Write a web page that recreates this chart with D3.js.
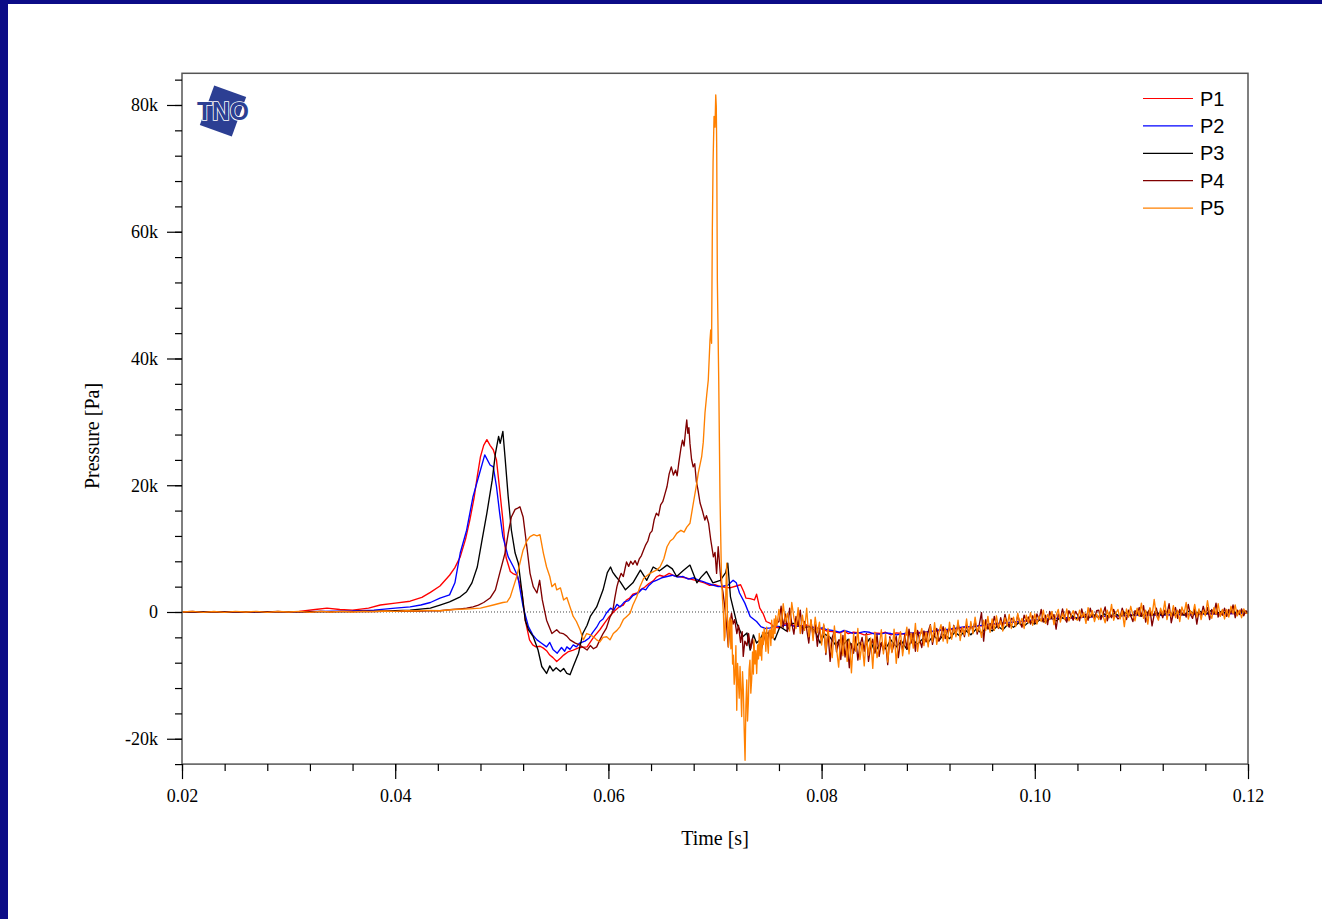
<!DOCTYPE html>
<html>
<head>
<meta charset="utf-8">
<script src="https://cdn.jsdelivr.net/npm/d3@7"></script>
<style>
  html, body { margin: 0; padding: 0; background: #ffffff; }
  svg { display: block; }
</style>
</head>
<body>
<svg id="chart" width="1322" height="919"></svg>
<script>
// Pressure traces of five gauges; time in ms, pressure in kPa.
const seriesNames = ["P1", "P2", "P3", "P4", "P5"];
const seriesColors = ["#ff0000", "#0000ff", "#000000", "#800000", "#ff8000"];

const xTickValues = [20, 40, 60, 80, 100, 120];
const xTickLabels = ["0.02", "0.04", "0.06", "0.08", "0.10", "0.12"];
const yTickValues = [-20, 0, 20, 40, 60, 80];
const yTickLabels = ["-20k", "0", "20k", "40k", "60k", "80k"];

const p1 = [[20,0],[24,0],[28,0.05],[31,0.1],[32.5,0.4],[33.6,0.6],[34.8,0.4],[36,0.3],[37.5,0.6],[38.6,1.1],[40,1.4],[41.4,1.7],[42.5,2.3],[43.3,3.1],[44.2,4.1],[45.1,5.8],[45.6,7],[46.1,8.7],[46.6,11.5],[47,14.5],[47.4,18],[47.7,21.4],[48,24.5],[48.3,26.3],[48.6,27.2],[48.9,26.3],[49.2,25.6],[49.5,24],[49.8,19.3],[50.1,14.5],[50.4,8.6],[50.8,6.4],[51.1,6],[51.4,5.8],[51.7,4.5],[51.9,3],[52.2,-1.3],[52.6,-4.4],[52.9,-5.2],[53.2,-5.5],[53.6,-5.4],[53.9,-5.7],[54.2,-6.1],[54.5,-6.8],[54.8,-7.2],[55.15,-7.8],[55.5,-7.3],[55.8,-6.8],[56.2,-6.3],[56.7,-6],[57.3,-5.6],[58,-5.5],[58.6,-4],[59.2,-2.8],[59.7,-1.6],[60.1,-0.7],[60.6,0.2],[61,0.8],[61.4,1.1],[61.7,1.9],[62,2.2],[62.3,2.8],[62.7,3],[63,3.5],[63.4,3.9],[63.8,4.5],[64.2,4.9],[64.5,5.5],[64.8,5.8],[65.2,5.6],[65.7,6.1],[66.2,5.7],[66.7,5.6],[67.2,5.4],[67.7,5.2],[68.2,5],[68.6,4.8],[69,4.6],[69.5,4.2],[70,4.3],[70.5,4],[71,3.9],[71.4,3.8],[72,4.1],[72.4,4.3],[72.7,3.2],[72.9,2.2],[73.3,2.1],[73.7,1.9],[73.9,2.8],[74.2,0.6],[74.5,-0.2],[74.8,-1.5],[75.2,-1.8],[75.6,-2.4],[76.1,-2.5],[76.5,-1.9],[77,-1.8],[77.5,-2.2],[78,-2.3],[78.5,-2],[78.9,-2.3],[79.4,-2.5],[79.8,-2.6],[80.2,-2.8],[80.5,-3],[81,-3.1],[81.7,-3.3],[82.1,-3],[82.5,-3.4],[83,-3.2],[83.5,-3.3],[84,-3.6],[84.5,-3.5],[85,-3.3],[85.5,-3.4],[86,-3.2],[86.5,-3.6],[87,-3.3],[87.5,-3.4],[88,-3.6],[88.5,-3.5],[89,-3.2],[89.5,-3.3],[90,-3.1],[90.5,-3.1],[91.2,-2.9],[92,-2.8],[92.7,-2.6],[93.5,-2.4],[94.2,-2.3],[95,-2.2],[95.8,-2],[96.5,-1.9],[97.2,-1.8],[98,-1.6],[99,-1.5],[100,-1.3],[101,-1.1],[102,-1],[103,-1],[104,-0.9],[105,-0.8],[106,-0.7],[107,-0.7],[108,-0.6],[109,-0.5],[110,-0.5],[111,-0.4],[112,-0.4],[113,-0.5],[114,-0.4],[115,-0.3],[116,-0.3],[117,-0.3],[118,-0.3],[119,-0.2],[120,-0.2]];

const p2 = [[20,0],[30,0],[33,0.1],[36,0.15],[38,0.3],[40,0.6],[41.4,0.8],[42.4,1.1],[43.3,1.5],[44.2,2.2],[45.1,2.7],[45.6,4.6],[46.1,9.3],[46.7,12.9],[47.3,18.2],[48,22.4],[48.4,24.8],[48.9,23.2],[49.2,22.9],[49.5,19.8],[49.8,15.6],[50.1,11.9],[50.6,8.7],[51.1,7.1],[51.5,5.6],[52,0.8],[52.5,-2.3],[52.9,-3.6],[53.3,-4.4],[53.7,-4.9],[54.2,-5.5],[54.5,-4.8],[54.8,-5.9],[55.2,-6.5],[55.6,-5.6],[55.9,-6.2],[56.1,-5.5],[56.4,-5.9],[56.7,-5.2],[57.0,-5.5],[57.3,-4.9],[57.8,-4.6],[58.2,-4.1],[58.5,-3.3],[58.9,-2.4],[59.2,-1.5],[59.5,-1.1],[59.8,-0.2],[60.2,0.6],[60.5,0.3],[60.8,1.2],[61.1,0.8],[61.5,1.6],[61.9,1.8],[62.3,2.6],[62.8,3],[63.2,3.7],[63.5,3.5],[63.8,4.2],[64.2,4.8],[64.5,5],[65,5.4],[65.5,5.6],[66,5.8],[66.5,5.5],[67,5.6],[67.5,5.2],[68,5.4],[68.5,5],[68.9,4.8],[69.2,4.6],[69.7,4.3],[70.3,4],[70.8,4.1],[71.2,4.2],[71.5,4.7],[71.7,5],[72,4.6],[72.3,3],[72.8,1.4],[73.3,-0.7],[73.6,-1.1],[73.9,-1.5],[74.3,-2.3],[74.7,-2.6],[75.2,-2.5],[75.6,-2.2],[76.1,-2.3],[76.5,-2.1],[77,-2],[77.5,-2.3],[78,-2.2],[78.5,-2.4],[79,-2.3],[79.5,-2.6],[80.1,-2.5],[80.5,-2.8],[81,-2.9],[81.7,-3.2],[82.1,-2.9],[82.5,-3.1],[83,-3.4],[83.5,-3.3],[84,-3.1],[84.5,-3.2],[85,-3.5],[85.5,-3.5],[86,-3.3],[86.5,-3.4],[87,-3.6],[87.5,-3.5],[88,-3.3],[88.5,-3.3],[89,-3.4],[89.5,-3.2],[90,-3.1],[90.5,-3],[91.2,-2.8],[92,-2.7],[92.7,-2.5],[93.5,-2.3],[94.2,-2.3],[95,-2.1],[95.8,-1.9],[96.5,-1.8],[97.2,-1.7],[98,-1.6],[99,-1.4],[100,-1.2],[101,-1.1],[102,-1],[103,-0.9],[104,-0.9],[105,-0.8],[106,-0.7],[107,-0.6],[108,-0.6],[109,-0.5],[110,-0.5],[111,-0.5],[112,-0.5],[113,-0.4],[114,-0.4],[115,-0.4],[116,-0.3],[117,-0.3],[118,-0.3],[119,-0.2],[120,-0.2]];

const p3 = [[20,0],[35,0.05],[38,0.1],[40,0.2],[41.4,0.3],[43.3,0.6],[44.2,1.1],[45.1,1.6],[46.1,2.4],[46.7,3.2],[47.2,4.6],[47.7,7.1],[48.1,10.9],[48.6,15.6],[49.1,20.8],[49.4,25],[49.7,27.7],[49.85,26.6],[50.1,28.5],[50.3,24.5],[50.6,18.2],[50.9,12.9],[51.25,9.3],[51.55,7.7],[51.9,3],[52.2,-1.3],[52.5,-2.8],[52.95,-3.9],[53.4,-6],[53.75,-8.6],[54.2,-9.7],[54.5,-8.5],[54.8,-9.3],[55.1,-8.8],[55.5,-9.4],[55.8,-8.9],[56.1,-9.7],[56.4,-9.9],[56.7,-8.6],[57.2,-6.5],[57.6,-3.4],[58,-2.1],[58.3,-0.7],[58.9,0.8],[59.5,3.5],[59.9,6.2],[60.2,7.1],[60.4,6.3],[60.7,5.6],[61.1,4.8],[61.6,3.5],[62.3,4.6],[63,6.6],[63.6,5],[64.2,7.1],[64.8,6.5],[65.5,7.4],[66,6.8],[66.4,5.6],[67,6.5],[67.65,7.4],[68.3,4.6],[68.7,5.5],[69.2,6.4],[69.8,4.6],[70.5,5],[71,6.2],[71.2,7.7],[71.45,2.4],[72.05,-1.8],[72.6,-3.9],[73,-3.3],[73.3,-6],[73.6,-3.6],[73.9,-4.9],[74.2,-4.4],[74.5,-3.4],[75.2,-3.3],[75.6,-4.4],[76.1,-2.3],[76.7,-3],[77.2,-1.8],[77.7,-1.8],[78.2,-2.5],[78.9,-2.3],[79.4,-3],[79.85,-4.9],[80.3,-3.5],[80.8,-4],[81.3,-5.2],[81.7,-4.4],[82,-5.2],[82.5,-4.3],[83,-6.1],[83.5,-4.8],[84,-5.6],[84.5,-4.2],[85,-6.3],[85.5,-5],[86,-5.8],[86.5,-4.4],[87,-5.5],[87.5,-4.6],[88,-5.9],[88.5,-4.3],[89,-5.1],[89.5,-4.2],[90,-4.8],[90.5,-3.7],[91,-4.5],[91.5,-3.5],[92,-4.2],[92.5,-3.2],[93,-3.8],[93.5,-2.9],[94,-3.6],[94.5,-2.7],[95,-3.3],[95.5,-2.4],[96,-3],[96.5,-2.2],[97,-2.8],[97.5,-1.9],[98,-2.4],[98.5,-1.7],[99,-2.2],[99.5,-1.5],[100,-1.9],[100.5,-1.2],[101,-1.6],[101.5,-0.9],[102,-1.4],[102.5,-0.8],[103,-1.3],[103.5,-0.6],[104,-1.1],[104.5,-0.5],[105,-1],[105.5,-0.4],[106,-0.9],[106.5,-0.3],[107,-0.8],[107.5,-0.2],[108,-0.7],[108.5,-0.1],[109,-0.6],[109.5,-0.2],[110,-0.7],[110.5,0],[111,-0.5],[111.5,-0.1],[112,-0.6],[112.5,0.1],[113,-0.4],[113.5,0],[114,-0.5],[114.5,0.2],[115,-0.3],[115.5,0.1],[116,-0.4],[116.5,0.2],[117,-0.3],[117.5,0.1],[118,-0.2],[118.5,0.2],[119,-0.3],[119.5,0.1],[120,-0.1]];

const p4Head = [[20,0],[21,0.08],[22,-0.05],[23,0.06],[24,-0.04],[25,0.07],[26,-0.05],[27,0.06],[28,0],[29,0.08],[30,-0.03],[31,0.07],[32,0],[33,0.1],[34,0.02],[35,0.1],[36,0.05],[37,0.12],[38,0.08],[39,0.12],[40,0.1],[41,0.15],[42,0.12],[43,0.18],[44.2,0.2],[45.1,0.35],[46.1,0.5],[46.7,0.6],[47.3,0.8],[47.8,1.1],[48.3,1.5],[48.9,2.2],[49.4,3.5],[49.8,6.1],[50.3,9.3],[50.6,12.4],[50.9,15],[51.25,16.2],[51.5,16.4],[51.7,16.6],[52,15],[52.35,10.3],[52.65,6.1],[52.95,4],[53.3,3],[53.55,5],[53.8,1.9],[54.2,-1.3],[54.7,-3.4],[55.15,-2.8],[55.45,-3.3],[55.75,-3.4],[56.1,-3.8],[56.4,-4.4],[56.9,-4.9],[57.3,-5.2],[57.65,-5.6],[58,-6],[58.3,-5.3],[58.6,-5.8],[58.9,-5.5],[59.2,-4.4],[59.5,-3.4],[59.8,-2.6],[60.15,-0.8],[60.4,0],[60.6,2.2],[60.8,4],[61,5.2],[61.2,6.1],[61.4,5.6],[61.7,7.9],[61.9,7.2],[62.1,8],[62.3,7.5],[62.5,8.1],[62.7,7.4],[62.9,8.4],[63.1,8.9],[63.3,9.8],[63.5,10.6],[63.7,11.2],[63.9,12.4],[64.1,12.8],[64.3,14.6],[64.5,15.6],[64.7,15.2],[64.9,16.9],[65.1,17.4],[65.3,18.6],[65.5,19.8],[65.7,21.8],[65.9,22.9],[66.1,21.6],[66.3,22.4],[66.45,21.5],[66.6,23.5],[66.8,25.8],[66.95,27.1],[67.1,26.2],[67.25,28.8],[67.35,30.3],[67.45,28.2],[67.55,29.1],[67.65,26.6],[67.8,24.1],[67.95,22.9],[68.1,23.4],[68.25,20.6],[68.4,19.3],[68.6,17.2],[68.8,16.1],[69.05,14.5],[69.2,15.2],[69.4,14],[69.6,11.4],[69.85,8.7],[70,9.4],[70.15,6.1],[70.3,10.3],[70.45,7.1],[70.55,5],[70.75,3.1],[70.95,0.3],[71.1,-2.4],[71.25,-5.5],[71.4,-1.8],[71.55,-0.2],[71.7,-1.9],[71.85,-1.2],[72.05,-3.4],[72.2,-2.1],[72.4,-4.8],[72.55,-3.1],[72.65,-7],[72.8,-4.6],[73,-5.3],[73.15,-3.4],[73.35,-5.8],[73.5,-4.2],[73.7,-6.1],[73.9,-7.6],[74.1,-5.2],[74.3,-6.3],[74.5,-4.9],[74.7,-3.6],[74.9,-4.8],[75.1,-2.9],[75.3,-4.1],[75.5,-3.4],[75.75,-1.8]];

const p5Head = [[20,0],[21,0.1],[22,-0.05],[23,0.08],[24,-0.05],[25,0.1],[26,0],[27,0.1],[28,-0.05],[29,0.08],[30,0],[31,0.1],[32,-0.05],[33,0.1],[34,0],[35,0.1],[36,0],[37,0.1],[38,0.05],[39,0.15],[40,0.1],[41,0.2],[42,0.15],[43,0.25],[44.2,0.2],[45.5,0.4],[47,0.5],[48,0.6],[49.2,1.1],[50.1,1.5],[50.5,1.6],[50.8,2.4],[51.1,4],[51.4,5.6],[51.7,7.7],[52,9.8],[52.35,11.2],[52.65,11.9],[53,12.2],[53.3,12],[53.58,12.2],[53.9,9.3],[54.2,7.1],[54.5,5.6],[54.7,4],[55,4.5],[55.15,3.5],[55.5,3.8],[55.8,1.9],[56.1,2.3],[56.4,0.8],[56.7,-0.7],[57,-1.5],[57.34,-2.8],[57.65,-4.4],[57.96,-3.4],[58.3,-3.6],[58.6,-3.9],[58.9,-4.4],[59.2,-4.7],[59.5,-4],[59.84,-3.9],[60.15,-4.4],[60.46,-3.4],[60.8,-2.9],[61.09,-2.3],[61.4,-1.2],[61.72,-0.7],[62.03,-0.2],[62.3,1.1],[62.66,2.4],[62.96,4],[63.3,5.3],[63.9,6.1],[64.5,6.6],[64.84,7.1],[65.2,8.4],[65.5,10.3],[65.8,11.2],[66.1,11.6],[66.41,12.4],[66.8,12.9],[67.1,12.6],[67.35,13.4],[67.65,14],[67.97,17.2],[68.28,20.2],[68.43,21.9],[68.75,24.5],[68.9,26.8],[69.06,31.4],[69.22,34.2],[69.37,36.6],[69.53,42.9],[69.6,44.5],[69.68,42.4],[69.75,60.3],[69.82,71],[69.91,78.2],[70,76.5],[70.07,81.6],[70.12,79.8],[70.16,73.4],[70.22,52.4],[70.35,36.6],[70.47,18],[70.6,6.2],[70.7,2.1],[70.79,-0.2],[70.87,-4.5],[70.94,-3.9],[71.02,3.5],[71.1,7.7],[71.18,-2.2],[71.26,-5.5],[71.33,-1.5],[71.41,-0.9],[71.49,-5.8],[71.57,-1.3],[71.65,-8.2],[71.72,-6.8],[71.8,-11.4],[71.88,-9.7],[71.96,-5.3],[72.04,-15.5],[72.12,-8.1],[72.19,-10.7],[72.27,-13.6],[72.35,-8.6],[72.42,-12.2],[72.5,-16.5],[72.58,-9.4],[72.66,-12.3],[72.74,-18.6],[72.82,-23.4],[72.9,-14.8],[72.98,-10.7],[73.05,-17.2],[73.13,-14.2],[73.2,-9.1],[73.28,-7.6],[73.36,-12.8],[73.44,-10.7],[73.52,-6.3],[73.6,-9.8],[73.66,-4.4],[73.75,-8.2],[73.83,-6.1],[73.91,-9.7],[74,-5.2],[74.08,-7.4],[74.15,-3.4],[74.23,-6.9],[74.3,-4.1],[74.38,-7.6],[74.46,-3.2],[74.53,-5.1],[74.61,-2.6],[74.69,-3.4],[74.77,-6.2],[74.85,-2.4],[74.92,-4.9],[75,-6.5],[75.08,-3.1],[75.16,-2.8],[75.24,-5.3],[75.32,-1.3],[75.4,-3.8],[75.47,-4.2],[75.55,-1.1],[75.63,-3.4],[75.7,-0.6],[75.8,-2.2]];

// Sample times of the late, noisy part of P4 and P5 (ms), ten per row
const tailTimes = [
  76,76.2,76.4,76.6,76.8,77,77.2,77.4,77.6,77.8,
  78,78.2,78.4,78.6,78.8,79,79.2,79.4,79.6,79.8,
  80,80.2,80.4,80.6,80.8,81,81.2,81.4,81.6,81.8,
  82,82.2,82.4,82.6,82.8,83,83.2,83.4,83.6,83.8,
  84,84.2,84.4,84.6,84.8,85,85.2,85.4,85.6,85.8,
  86,86.2,86.4,86.6,86.8,87,87.2,87.4,87.6,87.8,
  88,88.2,88.4,88.6,88.8,89,89.2,89.4,89.6,89.8,
  90,90.2,90.4,90.6,90.8,91,91.2,91.4,91.6,91.8,
  92,92.2,92.4,92.6,92.8,93,93.2,93.4,93.6,93.8,
  94,94.2,94.4,94.6,94.8,95,95.2,95.4,95.6,95.8,
  96,96.2,96.4,96.6,96.8,97,97.2,97.4,97.6,97.8,
  98,98.2,98.4,98.6,98.8,99,99.2,99.4,99.6,99.8,
  100,100.2,100.4,100.6,100.8,101,101.2,101.4,101.6,101.8,
  102,102.2,102.4,102.6,102.8,103,103.2,103.4,103.6,103.8,
  104,104.2,104.4,104.6,104.8,105,105.2,105.4,105.6,105.8,
  106,106.2,106.4,106.6,106.8,107,107.2,107.4,107.6,107.8,
  108,108.2,108.4,108.6,108.8,109,109.2,109.4,109.6,109.8,
  110,110.2,110.4,110.6,110.8,111,111.2,111.4,111.6,111.8,
  112,112.2,112.4,112.6,112.8,113,113.2,113.4,113.6,113.8,
  114,114.2,114.4,114.6,114.8,115,115.2,115.4,115.6,115.8,
  116,116.2,116.4,116.6,116.8,117,117.2,117.4,117.6,117.8,
  118,118.2,118.4,118.6,118.8,119,119.2,119.4,119.6,119.8,
  120
];

const p4Tail = [
  -1.5,0.9,-2.4,-0.3,-3.1,0.6,-1.8,-3.5,-0.7,-2.2,
  0.3,-3.4,-1.5,-2.7,-4.9,-1.3,-3.8,-2.0,-5.4,-2.6,
  -4.6,-2.1,-6.7,-3.2,-7.8,-4.0,-3.0,-6.3,-4.4,-7.5,
  -3.7,-7.1,-4.6,-8.8,-5.0,-6.5,-3.9,-7.6,-5.3,-4.0,
  -6.2,-3.4,-7.8,-5.4,-4.3,-6.5,-3.6,-7.0,-4.8,-6.1,
  -4.7,-8.3,-3.9,-6.3,-5.0,-3.8,-7.2,-4.5,-6.0,-3.6,
  -5.8,-2.7,-4.9,-3.3,-6.2,-2.9,-4.4,-5.6,-3.0,-4.7,
  -3.1,-2.0,-5.1,-3.4,-2.6,-4.6,-3.7,-2.3,-4.2,-3.0,
  -2.5,-4.0,-2.1,-3.6,-1.8,-3.2,-2.5,-3.9,-2.0,-3.3,
  -2.2,-2.8,-1.4,-3.5,-1.9,-0.1,-4.6,-1.2,-2.7,-1.8,
  -2.7,-0.7,-2.0,-2.6,-0.9,-2.3,-0.4,-1.8,-2.4,-1.0,
  -1.2,-2.1,-0.5,-1.7,-2.4,-0.5,-1.4,-0.8,-1.9,-0.6,
  -1.7,-0.3,-1.2,0.4,-1.6,-0.5,-2.0,0.1,-1.0,-0.4,
  -2.7,-0.3,-1.1,0.5,-0.9,-1.6,0.2,-0.6,-1.3,0.1,
  -0.4,-1.4,0.5,-0.8,-0.3,-1.3,0.6,-0.6,-1.0,0.2,
  0.3,-1.2,-0.3,0.8,-1.4,-0.1,-0.9,0.4,-0.6,-1.1,
  -0.8,0.6,-0.4,-1.2,0.3,-0.6,-1.5,0.2,-0.3,0.7,
  -0.7,1.0,-1.6,-0.1,0.5,-2.2,-0.4,0.6,-0.9,0.2,
  -0.9,0.3,-0.3,1.3,-1.7,-0.2,0.7,-1.0,0.4,-0.5,
  0.2,-0.8,1.2,-0.4,-1.0,0.5,-1.9,0.2,-0.6,0.9,
  -0.4,0.7,-1.2,0.4,-0.3,1.4,-0.8,0.0,-0.5,0.6,
  -0.7,0.4,-0.2,1.1,-0.9,0.3,-0.4,0.5,-0.6,0.2,
  -0.1
];

const p5Tail = [
  0.4,-2.3,1.3,-1.6,-0.2,-3.0,1.5,-0.9,-2.6,0.7,
  -3.4,-0.5,-2.9,0.6,-3.9,-1.2,-4.5,-0.8,-3.3,-1.6,
  -5.2,-1.9,-6.4,-2.6,-5.1,-7.2,-2.2,-5.8,-8.7,-3.4,
  -6.9,-2.9,-7.8,-4.3,-9.6,-3.4,-6.2,-2.6,-7.5,-4.8,
  -8.5,-3.6,-6.8,-4.1,-8.9,-3.2,-7.2,-5.5,-2.8,-6.6,
  -3.5,-7.9,-4.2,-6.4,-2.7,-8.1,-4.8,-3.1,-6.9,-4.4,
  -2.4,-6.6,-3.3,-5.7,-1.8,-6.2,-3.9,-2.6,-5.3,-3.1,
  -5.5,-2.1,-4.7,-1.7,-5.1,-3.2,-2.0,-4.6,-2.5,-4.9,
  -1.6,-4.3,-2.2,-3.9,-1.3,-4.5,-2.4,-3.6,-1.1,-3.8,
  -1.5,-3.4,-0.8,-3.1,-2.2,-4.0,-1.3,-2.9,-0.7,-3.2,
  -1.1,-2.9,-0.6,-2.5,-1.4,-3.0,-0.9,-2.2,-0.4,-2.6,
  -0.8,-2.3,-0.2,-1.9,-1.0,-2.6,-0.5,-1.7,-0.1,-2.1,
  -0.3,-1.9,-0.7,-1.5,0.3,-1.8,-0.4,-1.2,0.1,-2.0,
  -0.5,0.4,-1.6,-0.2,-1.2,0.5,-1.4,-0.6,0.2,-1.1,
  -1.3,0.3,-0.9,-0.1,-1.8,0.7,-0.8,0.2,-1.5,-0.3,
  -1.2,0.6,-0.6,-1.7,0.3,-0.9,1.2,-1.3,-0.2,0.4,
  -1.1,0.2,-2.3,0.5,-0.8,0.9,-0.5,-1.4,0.6,-0.7,
  1.4,-1.0,0.3,-1.9,0.7,-0.6,2.0,-0.5,-1.3,0.6,
  -0.4,1.7,-1.2,0.4,-0.7,1.0,-0.9,0.3,-1.5,0.8,
  -0.3,1.5,-1.1,0.2,-0.5,1.2,-0.8,0.5,-1.2,0.3,
  -0.6,1.8,-0.2,-1.0,0.7,-0.4,1.3,-0.7,0.4,-1.1,
  0.4,-0.8,0.9,-0.3,1.1,-0.6,0.3,-0.9,0.5,-0.2,
  -0.2
];

// ---- assemble series ----
const zipTail = (vals) => tailTimes.map((t, i) => [t, vals[i]]);
const seriesData = [
  p1,
  p2,
  p3,
  p4Head.concat(zipTail(p4Tail)),
  p5Head.concat(zipTail(p5Tail))
];

// ---- layout ----
const svg = d3.select("#chart");
const plot = { left: 182, right: 1248, top: 73.3, bottom: 764.1 };

const x = d3.scaleLinear().domain([20, 120]).range([plot.left, plot.right]);
const y = d3.scaleLinear().domain([-24, 85]).range([plot.bottom, plot.top]);

// page background and navy frame strips
svg.append("rect").attr("width", 1322).attr("height", 919).attr("fill", "#ffffff");
svg.append("rect").attr("x", 0).attr("y", 0).attr("width", 8).attr("height", 919).attr("fill", "#0c0c87");
svg.append("rect").attr("x", 0).attr("y", 0).attr("width", 1322).attr("height", 4).attr("fill", "#0c0c87");

svg.append("defs").append("clipPath").attr("id", "plotClip")
  .append("rect")
  .attr("x", plot.left).attr("y", plot.top)
  .attr("width", plot.right - plot.left).attr("height", plot.bottom - plot.top);

// zero reference line
svg.append("line")
  .attr("x1", plot.left).attr("x2", plot.right)
  .attr("y1", y(0)).attr("y2", y(0))
  .attr("stroke", "#444").attr("stroke-width", 1)
  .attr("stroke-dasharray", "1,2");

// traces
const line = d3.line().x(d => x(d[0])).y(d => y(d[1]));
const traces = svg.append("g").attr("clip-path", "url(#plotClip)");
seriesData.forEach((pts, i) => {
  traces.append("path")
    .datum(pts)
    .attr("fill", "none")
    .attr("stroke", seriesColors[i])
    .attr("stroke-width", 1.35)
    .attr("stroke-linejoin", "round")
    .attr("d", line);
});

// frame
svg.append("rect")
  .attr("x", plot.left).attr("y", plot.top)
  .attr("width", plot.right - plot.left).attr("height", plot.bottom - plot.top)
  .attr("fill", "none").attr("stroke", "#555").attr("stroke-width", 1.5);

const tickFont = "'Liberation Serif', 'Times New Roman', serif";

// y axis: major ticks with labels, minor ticks every 4k
const yMinor = d3.range(-24, 85, 4);
svg.append("g")
  .attr("transform", `translate(${plot.left},0)`)
  .call(d3.axisLeft(y).tickValues(yMinor).tickSize(7).tickFormat(""))
  .call(g => g.select(".domain").remove());
svg.append("g")
  .attr("transform", `translate(${plot.left},0)`)
  .call(d3.axisLeft(y).tickValues(yTickValues).tickSize(15).tickPadding(9)
    .tickFormat((d, i) => yTickLabels[i]))
  .call(g => g.select(".domain").remove())
  .call(g => g.selectAll("text").attr("font-family", tickFont).attr("font-size", 18).attr("fill", "#000"));

// x axis: major ticks with labels, minor ticks every 4 ms
const xMinor = d3.range(20, 121, 4);
svg.append("g")
  .attr("transform", `translate(0,${plot.bottom})`)
  .call(d3.axisBottom(x).tickValues(xMinor).tickSize(7).tickFormat(""))
  .call(g => g.select(".domain").remove());
svg.append("g")
  .attr("transform", `translate(0,${plot.bottom})`)
  .call(d3.axisBottom(x).tickValues(xTickValues).tickSize(15).tickPadding(10)
    .tickFormat((d, i) => xTickLabels[i]))
  .call(g => g.select(".domain").remove())
  .call(g => g.selectAll("text").attr("font-family", tickFont).attr("font-size", 18).attr("fill", "#000"));

svg.selectAll(".tick line").attr("stroke", "#000").attr("stroke-width", 1.2);

// axis titles
svg.append("text")
  .attr("x", 715).attr("y", 838)
  .attr("text-anchor", "middle").attr("dominant-baseline", "central")
  .attr("font-family", tickFont).attr("font-size", 20)
  .text("Time [s]");
svg.append("text")
  .attr("transform", "translate(92,436) rotate(-90)")
  .attr("text-anchor", "middle").attr("dominant-baseline", "central")
  .attr("font-family", tickFont).attr("font-size", 20)
  .text("Pressure [Pa]");

// legend
const legend = svg.append("g");
seriesNames.forEach((name, i) => {
  const ly = 98.5 + i * 27.4;
  legend.append("line")
    .attr("x1", 1143).attr("x2", 1193).attr("y1", ly).attr("y2", ly)
    .attr("stroke", seriesColors[i]).attr("stroke-width", 1.2);
  legend.append("text")
    .attr("x", 1200).attr("y", ly)
    .attr("dominant-baseline", "central")
    .attr("font-family", "'Liberation Sans', Arial, sans-serif")
    .attr("font-size", 20).attr("fill", "#000")
    .text(name);
});

// TNO logo: tilted block behind outlined letters
const logo = svg.append("g").attr("transform", "translate(223,111)");
logo.append("rect")
  .attr("x", -17).attr("y", -21).attr("width", 34).attr("height", 42)
  .attr("transform", "rotate(20)")
  .attr("fill", "#2c3f93");
logo.append("text")
  .attr("x", 0).attr("y", 0)
  .attr("text-anchor", "middle").attr("dominant-baseline", "central")
  .attr("font-family", "'Liberation Sans', Arial, sans-serif")
  .attr("font-weight", "bold").attr("font-size", 25)
  .attr("textLength", 52).attr("lengthAdjust", "spacingAndGlyphs")
  .attr("fill", "#2c3f93").attr("stroke", "#ffffff").attr("stroke-width", 1.6)
  .attr("paint-order", "stroke")
  .text("TNO");
</script>
</body>
</html>
